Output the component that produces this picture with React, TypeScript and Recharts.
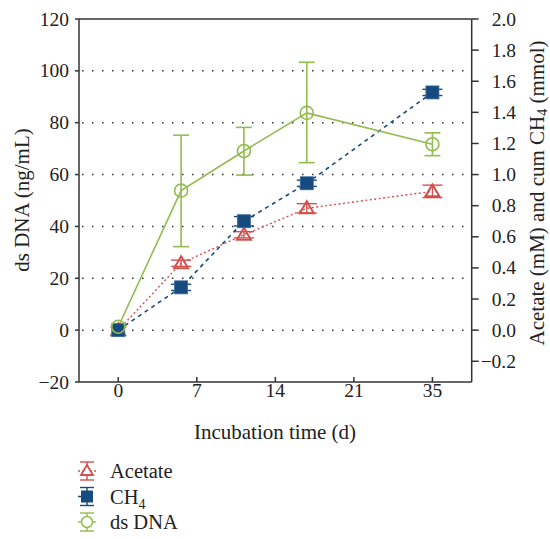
import React from "react"
import {
  ComposedChart,
  Line,
  XAxis,
  YAxis,
  ErrorBar,
  ReferenceLine,
  Label,
} from "recharts"

// x positions of the sampling days (axis is drawn with 28 labelled as 35)
const days = [0, 5.6, 11.2, 16.8, 28]
const xTicks = [0, 7, 14, 21, 28]
const xTickLabels = ["0", "7", "14", "21", "35"]

const dsDna = [1.3, 53.8, 69.1, 83.8, 71.7]
const dsDnaErrLow = [0, 21.6, 9.3, 19.2, 4.4]
const dsDnaErrHigh = [0, 21.4, 9.1, 19.5, 4.4]

const ch4 = [0, 0.275, 0.7, 0.944, 1.528]
const ch4Err = [0, 0.02, 0.03, 0.02, 0.02]

const acetate = [0, 0.43, 0.613, 0.783, 0.892]
const acetateErr = [0, 0.02, 0.02, 0.03, 0.04]

const leftTicks = [-20, 0, 20, 40, 60, 80, 100, 120]
const rightTicks = [-0.2, 0, 0.2, 0.4, 0.6, 0.8, 1.0, 1.2, 1.4, 1.6, 1.8, 2.0]
const gridValues = [0, 20, 40, 60, 80, 100]

const GREEN = "#93bb4f"
const BLUE = "#174a7e"
const RED = "#d4504f"
const AXIS = "#333333"
const FONT = "'Liberation Serif', 'DejaVu Serif', serif"

const chartData = days.map((d, i) => ({
  day: d,
  dna: dsDna[i],
  dnaErr: [dsDnaErrLow[i], dsDnaErrHigh[i]],
  ch4: ch4[i],
  ch4Err: ch4Err[i],
  acetate: acetate[i],
  acetateErr: acetateErr[i],
}))

const fmt = (v: number, digits: number) =>
  v < 0 ? "\u2212" + Math.abs(v).toFixed(digits) : v.toFixed(digits)

const LeftTick = (props: any) => {
  const { x, y, payload } = props
  return (
    <text x={x} y={y} textAnchor="end" dominantBaseline="central" fontSize={19.5} fontFamily={FONT} fill="#222">
      {fmt(payload.value, 0)}
    </text>
  )
}

const RightTick = (props: any) => {
  const { y, payload } = props
  return (
    <text x={516} y={y} textAnchor="end" dominantBaseline="central" fontSize={19.5} fontFamily={FONT} fill="#222">
      {fmt(payload.value, 1)}
    </text>
  )
}

const BottomTick = (props: any) => {
  const { x, y, payload, index } = props
  return (
    <text x={x} y={y + 4} textAnchor="middle" dominantBaseline="hanging" fontSize={19.5} fontFamily={FONT} fill="#222">
      {xTickLabels[index] ?? String(payload.value)}
    </text>
  )
}

const CircleDot = (props: any) => {
  const { cx, cy, index } = props
  return <circle key={`c-${index}`} cx={cx} cy={cy} r={6.5} fill="none" stroke={GREEN} strokeWidth={1.6} />
}

const SquareDot = (props: any) => {
  const { cx, cy, index } = props
  return <rect key={`s-${index}`} x={cx - 6.5} y={cy - 6.5} width={13} height={13} fill={BLUE} stroke="#3c6a98" strokeWidth={0.8} />
}

const TriangleDot = (props: any) => {
  const { cx, cy, index } = props
  return (
    <polygon
      key={`t-${index}`}
      points={`${cx},${cy - 7} ${cx - 7},${cy + 5} ${cx + 7},${cy + 5}`}
      fill="none"
      stroke={RED}
      strokeWidth={2}
    />
  )
}

function ChartLegend() {
  const rows = [
    { name: "Acetate", color: RED, dash: "2 2", kind: "tri" },
    { name: "CH4", color: BLUE, dash: "3 3", kind: "sq" },
    { name: "ds DNA", color: GREEN, dash: undefined, kind: "circ" },
  ]
  return (
    <svg width={220} height={90} style={{ position: "absolute", left: 60, top: 452 }}>
      {rows.map((r, i) => {
        const cy = 19 + i * 25.5
        const cx = 27
        return (
          <g key={r.name}>
            <line x1={cx} x2={cx} y1={cy - 9} y2={cy + 9} stroke={r.color} strokeWidth={1.4} />
            <line x1={cx - 7} x2={cx + 7} y1={cy - 9} y2={cy - 9} stroke={r.color} strokeWidth={1.4} />
            <line x1={cx - 7} x2={cx + 7} y1={cy + 9} y2={cy + 9} stroke={r.color} strokeWidth={1.4} />
            <line x1={cx - 9} x2={cx + 9} y1={cy} y2={cy} stroke={r.color} strokeWidth={1.4} strokeDasharray={r.dash} />
            {r.kind === "tri" && (
              <polygon points={`${cx},${cy - 6} ${cx - 6},${cy + 4} ${cx + 6},${cy + 4}`} fill="white" stroke={r.color} strokeWidth={1.8} />
            )}
            {r.kind === "sq" && <rect x={cx - 6} y={cy - 6} width={12} height={12} fill={r.color} />}
            {r.kind === "circ" && <circle cx={cx} cy={cy} r={5.5} fill="white" stroke={r.color} strokeWidth={1.5} />}
            <text x={50} y={cy + 7} fontSize={20.5} fontFamily={FONT} fill="#222">
              {r.kind === "sq" ? (
                <>
                  CH<tspan fontSize={14} dy={5}>4</tspan>
                </>
              ) : (
                r.name
              )}
            </text>
          </g>
        )
      })}
    </svg>
  )
}

export default function App() {
  return (
    <div style={{ position: "absolute", left: 0, top: 0, width: 550, height: 539, background: "#fff" }}>
      <ComposedChart
        width={550}
        height={539}
        data={chartData}
        margin={{ top: 19, right: 0, bottom: 97, left: 0 }}
      >
        <XAxis
          dataKey="day"
          type="number"
          domain={[-3.5, 31.5]}
          ticks={xTicks}
          tick={<BottomTick />}
          tickSize={-5}
          stroke={AXIS}
          strokeWidth={1.5}
          height={60}
        >
          <Label
            content={() => (
              <text x={275} y={439} textAnchor="middle" fontSize={21} fontFamily={FONT} fill="#222">
                Incubation time (d)
              </text>
            )}
          />
        </XAxis>
        <YAxis
          yAxisId="left"
          domain={[-20, 120]}
          ticks={leftTicks}
          tick={<LeftTick />}
          tickSize={4}
          tickMargin={6}
          width={79}
          stroke={AXIS}
          strokeWidth={1.5}
        >
          <Label
            content={() => (
              <text
                x={22}
                y={200}
                transform="rotate(-90 22 200)"
                textAnchor="middle"
                dominantBaseline="central"
                fontSize={21}
                fontFamily={FONT}
                fill="#222"
              >
                ds DNA (ng/mL)
              </text>
            )}
          />
        </YAxis>
        <YAxis
          yAxisId="right"
          orientation="right"
          domain={[-1 / 3, 2]}
          ticks={rightTicks}
          tick={<RightTick />}
          tickSize={7}
          width={78.3}
          stroke={AXIS}
          strokeWidth={1.5}
          allowDataOverflow
        >
          <Label
            content={() => (
              <text
                x={537}
                y={193}
                transform="rotate(-90 537 193)"
                textAnchor="middle"
                dominantBaseline="central"
                fontSize={21}
                fontFamily={FONT}
                fill="#222"
              >
                Acetate (mM) and cum CH<tspan fontSize={14} dy={5}>4</tspan>
                <tspan dy={-5}> (mmol)</tspan>
              </text>
            )}
          />
        </YAxis>

        {gridValues.map((v) => (
          <ReferenceLine
            key={v}
            yAxisId="left"
            y={v}
            stroke="#333"
            strokeWidth={1.5}
            strokeDasharray="1.5 8.5"
            strokeDashoffset={-13}
          />
        ))}
        <ReferenceLine yAxisId="left" y={120} stroke={AXIS} strokeWidth={1.5} />

        <Line
          yAxisId="right"
          dataKey="acetate"
          stroke={RED}
          strokeWidth={1.4}
          strokeDasharray="2 2.5"
          dot={<TriangleDot />}
          isAnimationActive={false}
        >
          <ErrorBar dataKey="acetateErr" width={10} stroke={RED} strokeWidth={1.4} direction="y" />
        </Line>
        <Line
          yAxisId="right"
          dataKey="ch4"
          stroke={BLUE}
          strokeWidth={1.6}
          strokeDasharray="4 4"
          dot={<SquareDot />}
          isAnimationActive={false}
        >
          <ErrorBar dataKey="ch4Err" width={10} stroke={BLUE} strokeWidth={1.4} direction="y" />
        </Line>
        <Line
          yAxisId="left"
          dataKey="dna"
          stroke={GREEN}
          strokeWidth={1.6}
          dot={<CircleDot />}
          isAnimationActive={false}
        >
          <ErrorBar dataKey="dnaErr" width={8} stroke={GREEN} strokeWidth={1.6} direction="y" />
        </Line>
      </ComposedChart>
      <ChartLegend />
    </div>
  )
}
